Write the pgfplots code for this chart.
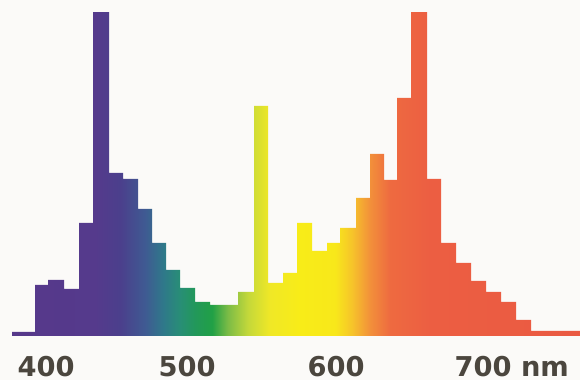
\documentclass[border=0pt]{standalone}
\usepackage{fontspec}
\setmainfont{DejaVu Sans}
\usepackage{pgfplots}
\pgfplotsset{compat=1.18}

% visible spectrum, laid out over the plotted range (inner 25bp..75bp of the shading)
\definecolor{sp01}{HTML}{56388A}
\definecolor{sp02}{HTML}{553A8C}
\definecolor{sp03}{HTML}{4B3F8C}
\definecolor{sp04}{HTML}{3F5A92}
\definecolor{sp05}{HTML}{2F788A}
\definecolor{sp06}{HTML}{288E76}
\definecolor{sp07}{HTML}{22985A}
\definecolor{sp08}{HTML}{21A046}
\definecolor{sp09}{HTML}{7CBC46}
\definecolor{sp10}{HTML}{C4D83A}
\definecolor{sp11}{HTML}{F0E826}
\definecolor{sp12}{HTML}{F8EC18}
\definecolor{sp13}{HTML}{F8E81A}
\definecolor{sp14}{HTML}{F6C42A}
\definecolor{sp15}{HTML}{F2903A}
\definecolor{sp16}{HTML}{EE6A40}
\definecolor{sp17}{HTML}{EC5E42}
\definecolor{sp18}{HTML}{EA5A42}
\definecolor{labelgray}{RGB}{75,70,62}
\definecolor{paper}{RGB}{251,250,248}

\pgfdeclarehorizontalshading{spectrum}{100bp}{%
  color(0bp)=(sp01); color(25bp)=(sp01); color(32.31bp)=(sp02);
  color(34.51bp)=(sp03); color(36.71bp)=(sp04); color(38.29bp)=(sp05);
  color(39.79bp)=(sp06); color(41.11bp)=(sp07); color(42.61bp)=(sp08);
  color(44.01bp)=(sp09); color(45.78bp)=(sp10); color(47.71bp)=(sp11);
  color(50.35bp)=(sp12); color(53.43bp)=(sp13); color(54.93bp)=(sp14);
  color(56.51bp)=(sp15); color(58.28bp)=(sp16); color(61.80bp)=(sp17);
  color(75bp)=(sp18); color(100bp)=(sp18)}

\begin{document}
\begin{tikzpicture}
\fill[paper, use as bounding box] (-12bp,-44bp) rectangle (568bp,336bp);
\begin{axis}[
  at={(0,0)}, anchor=south west,
  scale only axis,
  width=568bp, height=323bp,
  xmin=12, xmax=580,
  ymin=0, ymax=323,
  axis line style={draw=none},
  tick style={draw=none},
  ytick=\empty,
  xtick={46,187,336,483},
  xticklabels={400,500,600,{700\rlap{\ nm}}},
  xticklabel style={anchor=base, inner sep=0pt, yshift=-40bp, text=labelgray,
    font=\bfseries\fontsize{27.4}{30}\selectfont},
]
% emission histogram, left bin edges and relative intensity
\addplot[const plot, draw=none, shade, shading=spectrum] coordinates {
  (12,4) (35,51) (48,56) (64,47) (79,113) (93,400) (109,163) (123,157)
  (138,127) (152,93) (166,66) (180,48) (195,34) (210,31) (224,31)
  (238,44) (254,230) (268,53) (283,63) (297,113) (312,85) (327,93)
  (340,108) (356,138) (370,182) (384,156) (397,238) (411,400) (427,157)
  (441,93) (456,73) (471,55) (486,44) (501,34) (516,16) (531,5) (580,5)
} \closedcycle;
\end{axis}
\end{tikzpicture}
\end{document}
